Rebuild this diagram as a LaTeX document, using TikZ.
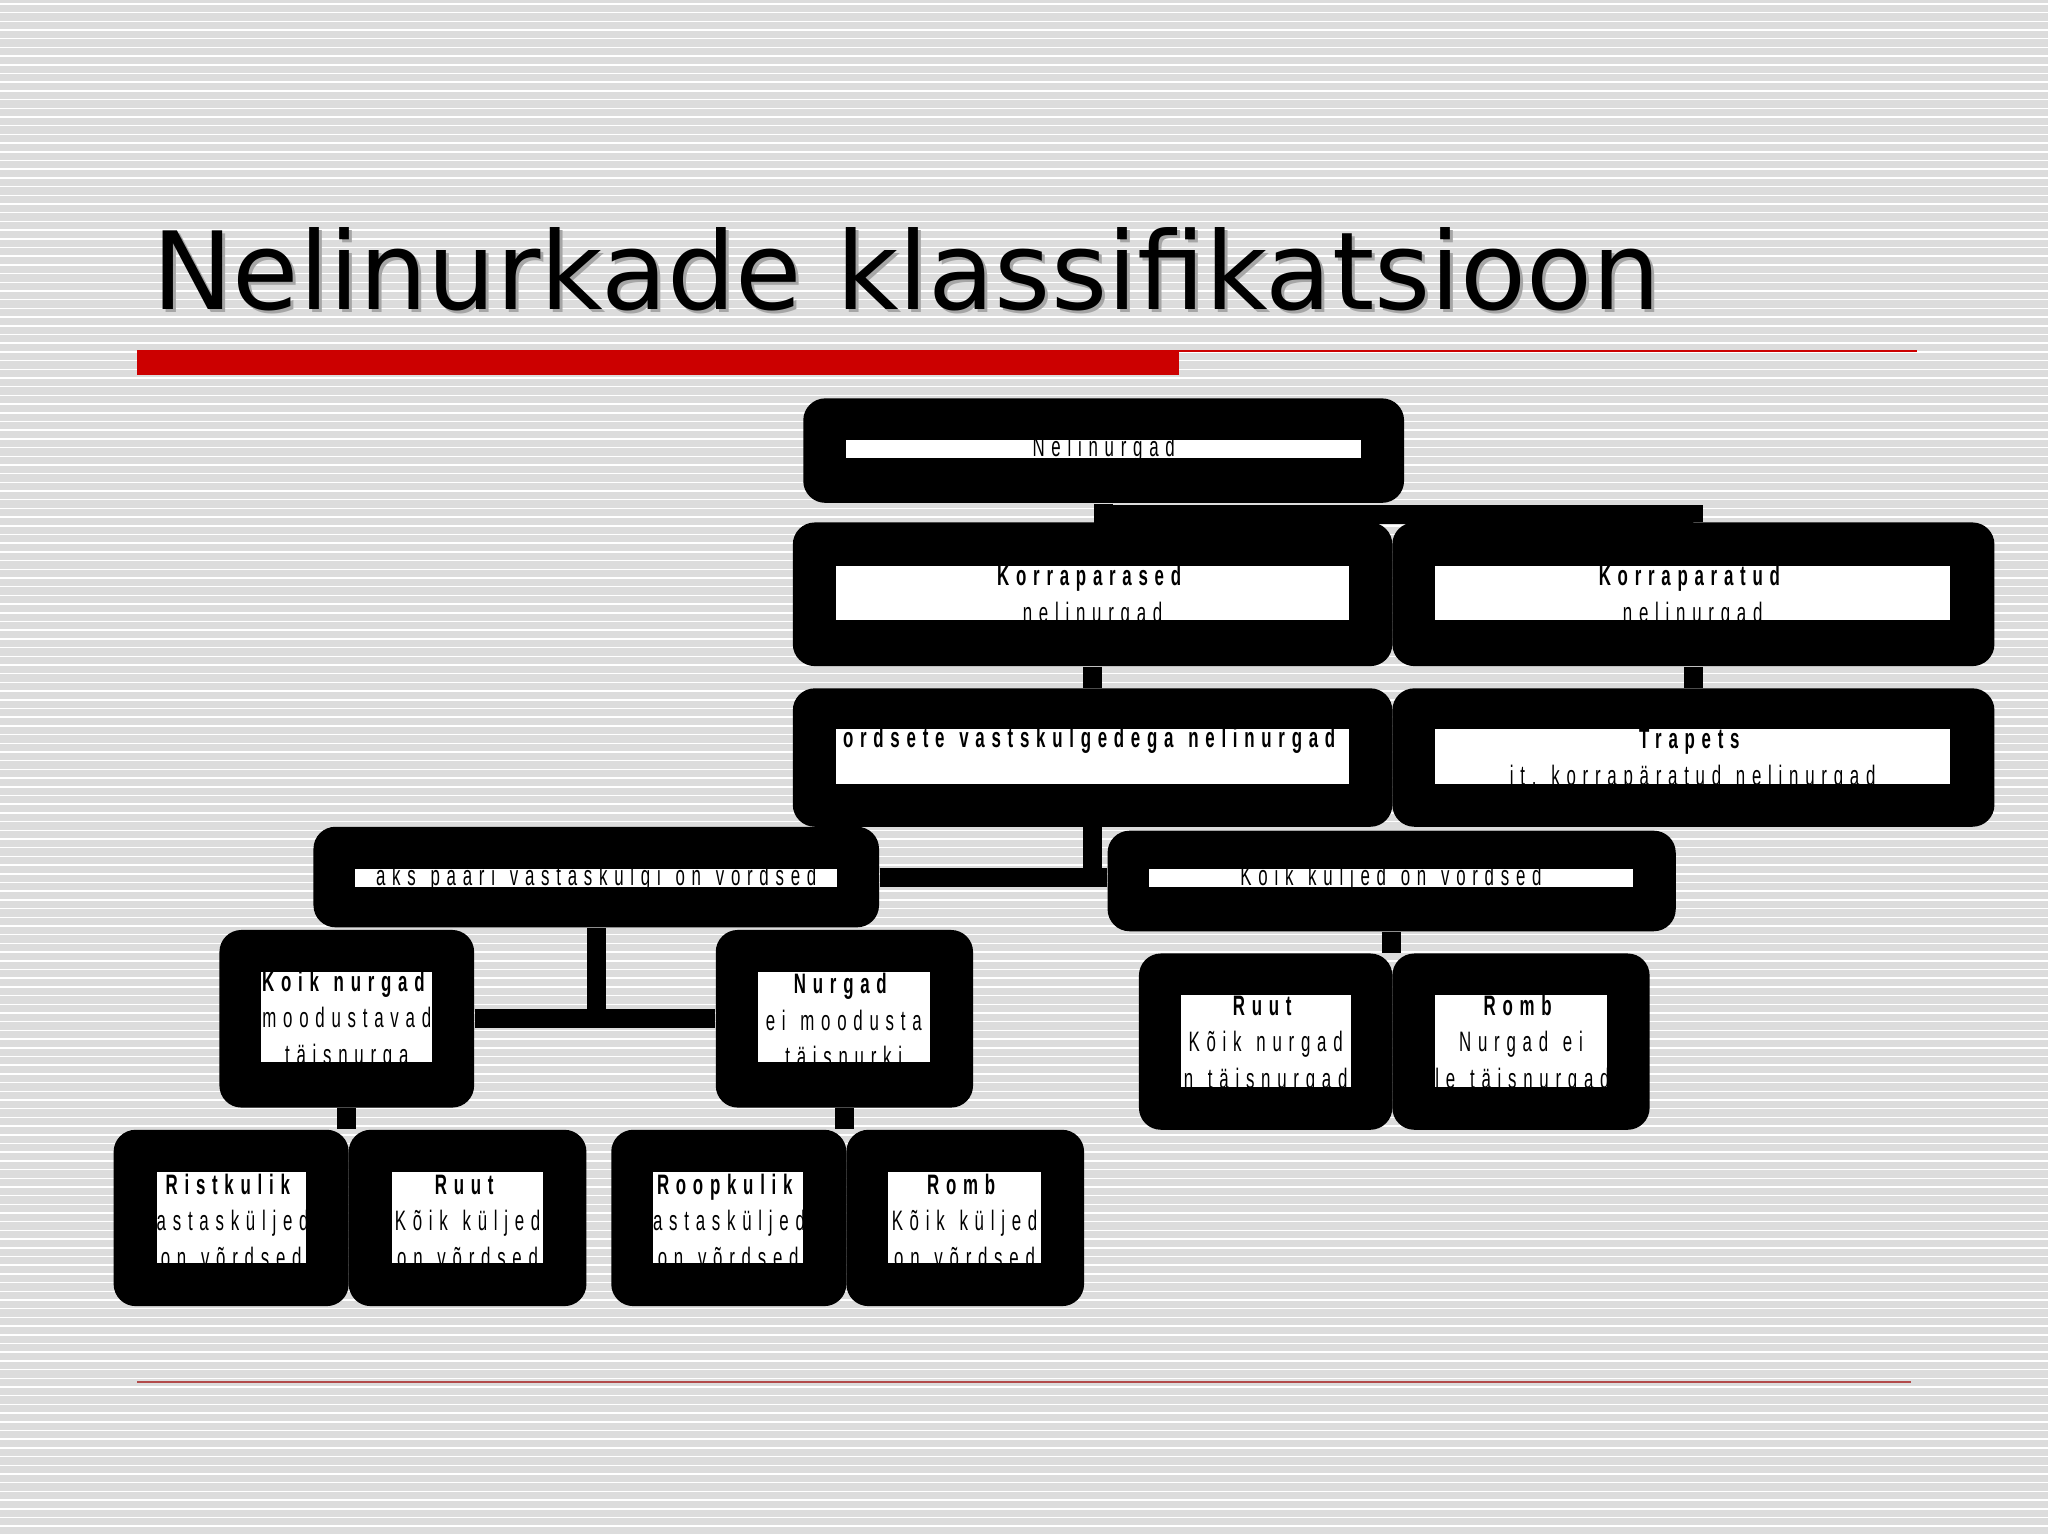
\documentclass[tikz,border=0pt]{standalone}
\usepackage{fontspec}
\usepackage{tikz}
\usetikzlibrary{fit, calc}
\newfontfamily\titlefont{DejaVu Sans}
\newfontfamily\boxfont[FakeStretch=0.6, LetterSpace=24]{Liberation Sans}
\definecolor{stripe}{HTML}{DCDCDC}
\definecolor{barred}{HTML}{CC0000}
\definecolor{rulered}{HTML}{B24A4A}
\definecolor{shade}{HTML}{A6A6A6}
\tikzset{%
	shell/.style={fill=black, rounded corners=0.22cm, inner sep=0pt},
	slot/.style={fill=white, inner sep=0pt},
	slottext/.style={font=\boxfont\fontsize{8}{10.4}\selectfont, align=center, inner sep=0pt,
		execute at begin node={\spaceskip=4.2pt\xspaceskip=4.2pt\relax}},
	slottop/.style={slottext, anchor=north, yshift=-3.7pt, at={(path picture bounding box.north)}},
	slotmid/.style={slottext, anchor=mid, at={(path picture bounding box.center)}},
	connector/.style={line width=0.19cm},
	headline/.style={anchor=base west, font=\titlefont\fontsize{30.7}{36}\selectfont}
}
\newcommand\slotbox[5][slottop]{% text style, name, outer box, white slot, text
	\node[shell, fit={#3}] (#2) {};
	\node[slot, fit={#4}, path picture={\node[#1] {#5};}] (#2-slot) {};
}

\begin{document}
\begin{tikzpicture}[x=0.013061cm, y=-0.013061cm]
  \useasboundingbox (0,0) rectangle (1568,1176);
  % striped slide background
  \fill[stripe] (0,0) rectangle (1568,1176);
  \foreach \k in {0,...,176}
    \draw[white, line width=0.015cm] (0,{3+\k*6.66}) -- (1568,{3+\k*6.66});

  \node[headline, text=shade] (title-shadow) at (109.3,239.3) {Nelinurkade klassifikatsioon};
  \node[headline] (title) at (107,237) {Nelinurkade klassifikatsioon};
  \fill[barred] (105,268) rectangle (903,287);
  \draw[barred, line width=0.02cm] (903,269) -- (1468,269);
  \draw[rulered, line width=0.015cm] (105,1058) -- (1463,1058);

  \slotbox[slotmid]{nel}{(615,305) (1075,385)}{(648,337) (1042,351)}{Nelinurgad}
  \slotbox{korp}{(607,400) (1066,510)}{(640,433) (1033,475)}{\textbf{Korraparased}\\nelinurgad}
  \slotbox{kora}{(1066,400) (1527,510)}{(1099,433) (1493,475)}{\textbf{Korraparatud}\\nelinurgad}
  \slotbox[slotmid, yshift=4.5pt]{vord}{(607,527) (1066,633)}{(640,558) (1033,600)}{\textbf{ordsete vastskulgedega nelinurgad}}
  \slotbox{trap}{(1066,527) (1527,633)}{(1099,558) (1493,600)}{\textbf{Trapets}\\it. korrapäratud nelinurgad}
  \slotbox[slotmid]{kaks}{(240,633) (673,710)}{(272,665) (641,679)}{aks paari vastaskulgi on vordsed}
  \slotbox[slotmid]{koik}{(848,636) (1283,713)}{(880,665) (1250,679)}{Koik kuljed on vordsed}
  \slotbox{nurk}{(168,712) (363,848)}{(200,744) (331,813)}{\textbf{Koik nurgad}\\moodustavad\\täisnurga}
  \slotbox{mitte}{(548,712) (745,848)}{(580,744) (712,813)}{\textbf{Nurgad}\\ei moodusta\\täisnurki}
  \slotbox{ruutA}{(872,730) (1066,865)}{(904,762) (1034,832)}{\textbf{Ruut}\\Kõik nurgad\\n täisnurgad}
  \slotbox{rombA}{(1066,730) (1263,865)}{(1099,762) (1230,832)}{\textbf{Romb}\\Nurgad ei\\le täisnurgad}
  \slotbox{rist}{(87,865) (267,1000)}{(120,897) (234,967)}{\textbf{Ristkulik}\\astasküljed\\on võrdsed}
  \slotbox{ruutB}{(267,865) (449,1000)}{(300,897) (416,967)}{\textbf{Ruut}\\Kõik küljed\\on võrdsed}
  \slotbox{roop}{(468,865) (648,1000)}{(500,897) (615,967)}{\textbf{Roopkulik}\\astasküljed\\on võrdsed}
  \slotbox{rombB}{(648,865) (830,1000)}{(680,897) (797,967)}{\textbf{Romb}\\Kõik küljed\\on võrdsed}

  \draw[connector] (nel.south) -- ++(0,8) -| (kora.north);
  \draw[connector] (korp.south) -- (vord.north);
  \draw[connector] (kora.south) -- (trap.north);
  \draw[connector] (vord.south) -- (vord.south |- kaks.east);
  \draw[connector] (kaks.east) -- (kaks.east -| koik.west);
  \draw[connector] (kaks.south) -- (kaks.south |- nurk.east);
  \draw[connector] (nurk.east) -- (mitte.west);
  \draw[connector] (nurk.south) -- (nurk.south |- rist.north);
  \draw[connector] (mitte.south) -- (mitte.south |- roop.north);
  \draw[connector] (koik.south) -- (koik.south |- ruutA.north);
\end{tikzpicture}
\end{document}
